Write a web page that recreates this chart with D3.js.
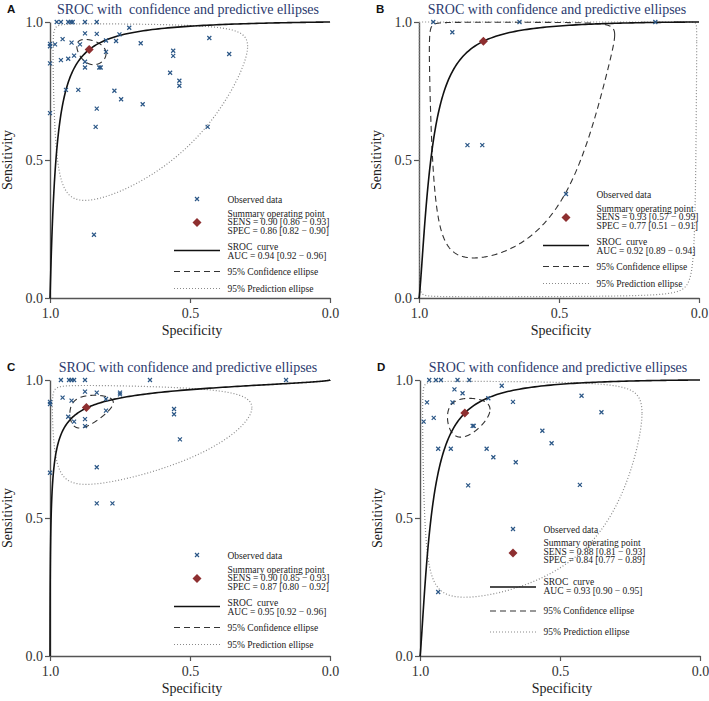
<!DOCTYPE html>
<html><head><meta charset="utf-8">
<script src="https://cdn.jsdelivr.net/npm/d3@7"></script>
<style>body{margin:0;background:#fff}svg{font-family:"Liberation Serif","Times New Roman",serif}</style>
</head><body><svg id="c" width="709" height="701"></svg>
<script>
// ---------- data ----------
const panelLetters = ["A", "B", "C", "D"];
const panelTitles = [
  "SROC with  confidence and predictive ellipses",
  "SROC with confidence and predictive ellipses",
  "SROC with confidence and predictive ellipses",
  "SROC with confidence and predictive ellipses"
];
const xTickValues = [1.0, 0.5, 0.0];
const yTickValues = [0.0, 0.5, 1.0];

// observed data (specificity, sensitivity)
const specA = [1.0,1.0,0.982,1.0,1.0,0.976,0.961,0.935,0.926,0.919,0.875,0.833,0.955,0.923,0.875,0.833,0.893,0.961,0.935,0.914,0.875,0.875,0.824,0.819,0.8,0.8,0.764,0.752,0.717,0.676,0.943,0.899,0.770,0.746,0.833,0.837,0.669,0.560,0.560,0.571,0.538,0.538,0.431,0.360,0.437,0.843];
const sensA = [0.921,0.912,0.919,0.85,0.67,1.0,1.0,1.0,1.0,1.0,1.0,1.0,0.938,0.925,0.959,0.957,0.919,0.862,0.867,0.878,0.856,0.835,0.835,0.835,0.892,0.933,0.931,0.955,0.979,0.923,0.754,0.754,0.751,0.72,0.686,0.620,0.702,0.896,0.877,0.816,0.787,0.769,0.942,0.884,0.620,0.229];
const specB = [0.949,0.881,0.827,0.774,0.641,0.156];
const sensB = [1.0,0.963,0.554,0.554,1.0,1.0];
const specC = [1.0,1.0,1.0,0.961,0.932,0.923,0.914,0.875,0.643,0.955,0.923,0.875,0.833,0.8,0.75,0.75,0.935,0.914,0.875,0.875,0.8,0.833,0.833,0.777,0.557,0.557,0.536,0.157];
const sensC = [0.921,0.913,0.664,1.0,1.0,1.0,1.0,1.0,1.0,0.936,0.925,0.958,0.954,0.931,0.954,0.948,0.867,0.849,0.858,0.833,0.889,0.684,0.553,0.553,0.895,0.876,0.785,1.0];
const specD = [0.987,0.975,0.967,0.943,0.925,0.866,0.824,0.877,0.848,0.884,0.951,0.812,0.808,0.756,0.708,0.668,0.935,0.890,0.762,0.738,0.658,0.828,0.423,0.352,0.563,0.530,0.429,0.935];
const sensD = [0.849,0.919,1.0,1.0,1.0,1.0,1.0,0.966,0.952,0.919,0.863,0.834,0.834,0.934,0.979,0.921,0.751,0.751,0.751,0.72,0.702,0.618,0.943,0.883,0.816,0.771,0.620,0.232];

// summary operating points
const summarySens = [0.90, 0.93, 0.90, 0.88];
const summarySpec = [0.86, 0.77, 0.87, 0.84];
const sensText = ["SENS = 0.90 [0.86 \u2212 0.93]", "SENS = 0.93 [0.57 \u2212 0.99]", "SENS = 0.90 [0.85 \u2212 0.93]", "SENS = 0.88 [0.81 \u2212 0.93]"];
const specText = ["SPEC = 0.86 [0.82 \u2212 0.90]", "SPEC = 0.77 [0.51 \u2212 0.91]", "SPEC = 0.87 [0.80 \u2212 0.92]", "SPEC = 0.84 [0.77 \u2212 0.89]"];
const aucText = ["AUC = 0.94 [0.92 \u2212 0.96]", "AUC = 0.92 [0.89 \u2212 0.94]", "AUC = 0.95 [0.92 \u2212 0.96]", "AUC = 0.93 [0.90 \u2212 0.95]"];

// SROC curve parameters: logit(sens) = intercept + slope * logit(1 - spec)
const srocIntercept = [4.17, 4.22, 3.32, 4.15];
const srocSlope = [1.087, 1.35, 0.60, 1.30];

// ellipses in logit space (SD along logit FPR, SD along logit sens, correlation)
const confSdX = [0.43, 2.05, 0.67, 0.56];
const confSdY = [0.50, 4.36, 0.64, 0.65];
const confRho = [-0.30, 0.10, 0.35, 0.20];
const predSdX = [2.69, 6.0, 2.85, 3.0];
const predSdY = [2.8, 8.0, 1.7, 3.3];
const predRho = [0.05, 0.0, 0.0, 0.0];

// ---------- layout ----------
const plotLeft = [50, 419, 50, 420];
const plotTop = [22, 22, 380, 380];
const plotW = 280, plotH = 276;
const legendX = [147, 147, 147, 93];
const legendY = [177, 172, 175, 149];
const legendRowsStd = {diamond: 23.5, solid: 51.5, dashed: 72.5, dotted: 89.5,
  tObs: 3.5, tSum: 17.5, tSens: 26, tSpec: 34.5, tSroc: 50.5, tAuc: 59.5, tConf: 75.5, tPred: 92.5};
const legendRowsD = {diamond: 24, solid: 58, dashed: 82, dotted: 103,
  tObs: 3.5, tSum: 16.5, tSens: 25.5, tSpec: 34, tSroc: 55.5, tAuc: 64.5, tConf: 85, tPred: 106};

const obsSpec = [specA, specB, specC, specD];
const obsSens = [sensA, sensB, sensC, sensD];

const svg = d3.select("#c");
const logit = p => Math.log(p / (1 - p));
const invlogit = z => 1 / (1 + Math.exp(-z));

const titleColor = "#2b3a6e";
const markColor = "#2a5686";
const diamondColor = "#8e2f30";
const axisColor = "#555";

function ellipsePts(cx, cy, sx, sy, r) {
  const pts = [];
  const q = Math.sqrt(1 - r * r);
  for (let i = 0; i <= 720; i++) {
    const t = i / 720 * 2 * Math.PI;
    const lx = cx + sx * Math.cos(t);
    const ly = cy + sy * (r * Math.cos(t) + q * Math.sin(t));
    pts.push([1 - invlogit(lx), invlogit(ly)]);
  }
  return pts;
}

for (let p = 0; p < 4; p++) {
  const L = plotLeft[p], T = plotTop[p];
  const x = d3.scaleLinear().domain([1, 0]).range([L, L + plotW]);
  const y = d3.scaleLinear().domain([0, 1]).range([T + plotH, T]);
  const g = svg.append("g");

  // panel letter
  g.append("text").attr("x", L - 43).attr("y", T - 9)
    .attr("font-family", "Liberation Sans, Arial, sans-serif").attr("font-weight", "bold")
    .attr("font-size", 11.5).attr("fill", "#111").text(panelLetters[p]);
  // title
  g.append("text").attr("x", L + plotW / 2 - 2).attr("y", T - 8.5)
    .attr("text-anchor", "middle").attr("font-size", 14).attr("fill", titleColor)
    .style("white-space", "pre").attr("xml:space", "preserve").text(panelTitles[p]);

  // axes
  const xAxis = d3.axisBottom(x).tickValues(xTickValues).tickFormat(d3.format(".1f")).tickSize(5).tickSizeOuter(0);
  const yAxis = d3.axisLeft(y).tickValues(yTickValues).tickFormat(d3.format(".1f")).tickSize(5).tickSizeOuter(0);
  const gx = g.append("g").attr("transform", `translate(0,${T + plotH})`).call(xAxis);
  const gy = g.append("g").attr("transform", `translate(${L},0)`).call(yAxis);
  [gx, gy].forEach(a => {
    a.select(".domain").attr("stroke", axisColor).attr("stroke-width", 1.4);
    a.selectAll(".tick line").attr("stroke", axisColor).attr("stroke-width", 1.2);
    a.selectAll(".tick text").attr("font-family", "Liberation Serif, Times New Roman, serif")
      .attr("font-size", 14).attr("fill", "#333");
  });
  gx.selectAll(".tick text").attr("dy", null).attr("y", 20);
  gy.selectAll(".tick text").attr("x", -7);

  // axis titles
  g.append("text").attr("x", L + plotW / 2 + 2).attr("y", T + plotH + 37)
    .attr("text-anchor", "middle").attr("font-size", 14).attr("fill", "#222").text("Specificity");
  g.append("text").attr("transform", `translate(${L - 38},${T + plotH / 2}) rotate(-90)`)
    .attr("text-anchor", "middle").attr("font-size", 14).attr("fill", "#222").text("Sensitivity");

  const line = d3.line().x(d => x(d[0])).y(d => y(d[1]));
  const cx = logit(1 - summarySpec[p]), cy = logit(summarySens[p]);

  // prediction ellipse
  g.append("path").datum(ellipsePts(cx, cy, predSdX[p], predSdY[p], predRho[p]))
    .attr("d", line).attr("fill", "none").attr("stroke", "#8a8a8a")
    .attr("stroke-width", 1.2).attr("stroke-dasharray", "1,2");
  // confidence ellipse
  g.append("path").datum(ellipsePts(cx, cy, confSdX[p], confSdY[p], confRho[p]))
    .attr("d", line).attr("fill", "none").attr("stroke", "#333")
    .attr("stroke-width", 1.1).attr("stroke-dasharray", "6,4");
  // SROC curve
  const sroc = [[1, 0]];
  for (let i = 0; i <= 600; i++) {
    const t = -16 + i * 28 / 600;
    sroc.push([1 - invlogit(t), invlogit(srocIntercept[p] + srocSlope[p] * t)]);
  }
  sroc.push([0, 1]);
  g.append("path").datum(sroc).attr("d", line).attr("fill", "none")
    .attr("stroke", "#111").attr("stroke-width", 1.6);

  // observed points
  const pts = obsSpec[p].map((s, i) => [s, obsSens[p][i]]);
  g.selectAll(".obs").data(pts).enter().append("path")
    .attr("transform", d => `translate(${x(d[0])},${y(d[1])})`)
    .attr("d", "M-2,-2L2,2M-2,2L2,-2").attr("stroke", markColor).attr("stroke-width", 1.2);

  // summary point
  g.append("path").attr("transform", `translate(${x(summarySpec[p])},${y(summarySens[p])})`)
    .attr("d", "M0,-4.5L4.5,0L0,4.5L-4.5,0Z").attr("fill", diamondColor);

  // legend
  const R = p === 3 ? legendRowsD : legendRowsStd;
  const mx = L + legendX[p], my = T + legendY[p];
  const tx = mx + 30.5;
  const lg = g.append("g").attr("font-size", 9.5).attr("fill", "#222");
  lg.append("path").attr("transform", `translate(${mx},${my})`)
    .attr("d", "M-2,-2L2,2M-2,2L2,-2").attr("stroke", markColor).attr("stroke-width", 1.2);
  lg.append("path").attr("transform", `translate(${mx},${my + R.diamond})`)
    .attr("d", "M0,-4.5L4.5,0L0,4.5L-4.5,0Z").attr("fill", diamondColor);
  lg.append("line").attr("x1", mx - 23).attr("x2", mx + 23).attr("y1", my + R.solid).attr("y2", my + R.solid)
    .attr("stroke", "#111").attr("stroke-width", 1.6);
  lg.append("line").attr("x1", mx - 23).attr("x2", mx + 23).attr("y1", my + R.dashed).attr("y2", my + R.dashed)
    .attr("stroke", "#333").attr("stroke-width", 1.1).attr("stroke-dasharray", "6,4");
  lg.append("line").attr("x1", mx - 23).attr("x2", mx + 23).attr("y1", my + R.dotted).attr("y2", my + R.dotted)
    .attr("stroke", "#8a8a8a").attr("stroke-width", 1.2).attr("stroke-dasharray", "1,2");
  const rows = [["Observed data", R.tObs], ["Summary operating point", R.tSum], [sensText[p], R.tSens],
    [specText[p], R.tSpec], ["SROC  curve", R.tSroc], [aucText[p], R.tAuc],
    ["95% Confidence ellipse", R.tConf], ["95% Prediction ellipse", R.tPred]];
  rows.forEach(r => lg.append("text").attr("x", tx).attr("y", my + r[1])
    .style("white-space", "pre").text(r[0]));
}
</script></body></html>
